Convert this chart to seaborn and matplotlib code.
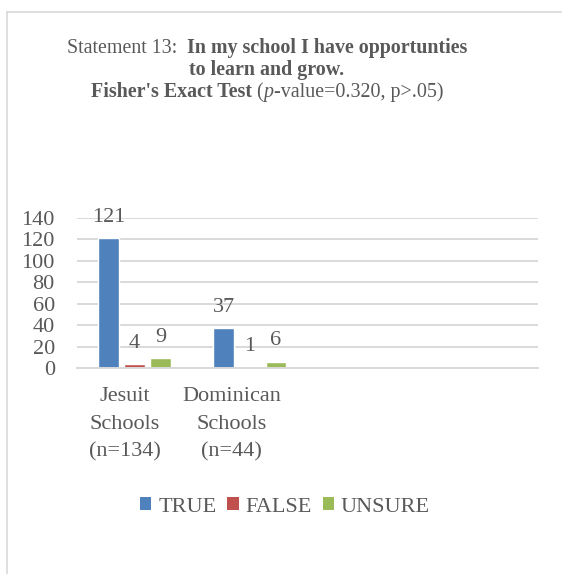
import matplotlib
matplotlib.use("Agg")
import matplotlib.pyplot as plt
import matplotlib.transforms as mtransforms
import seaborn as sns
import pandas as pd
from matplotlib.patches import Patch
from matplotlib.lines import Line2D

# ---- data ----
schools = ["Jesuit\nSchools\n(n=134)", "Dominican\nSchools\n(n=44)"]
empty_slots = [" ", "  "]
responses = ["TRUE", "FALSE", "UNSURE"]
true_vals = [121, 37]
false_vals = [4, 1]
unsure_vals = [9, 6]
y_ticks = [0, 20, 40, 60, 80, 100, 120, 140]
colors = ["#4F81BD", "#C0504D", "#9BBB59"]

rows = []
for i, s in enumerate(schools):
    for r, vals in zip(responses, [true_vals, false_vals, unsure_vals]):
        rows.append({"school": s, "response": r, "count": vals[i]})
df = pd.DataFrame(rows)

sns.set_style("white")
plt.rcParams["font.family"] = ["Liberation Serif", "DejaVu Serif"]
TXT = "#595959"
FS = 16

W, H = 562, 574
fig = plt.figure(figsize=(W / 100, H / 100), dpi=100)
ax = fig.add_axes([77 / W, 1 - 368 / H, (538 - 77) / W, (368 - 218) / H])

sns.barplot(data=df, x="school", y="count", hue="response",
            order=schools + empty_slots, hue_order=responses,
            palette=colors, width=0.68, gap=0.21, ax=ax,
            legend=False, saturation=1, errorbar=None)

ax.set_ylim(0, 140)
ax.set_xlim(-0.5, 3.5)
ax.set_yticks(y_ticks)
ax.set_yticklabels([str(t) for t in y_ticks], fontsize=FS, color=TXT)
ax.set_xticks(range(4))
ax.set_xticklabels(schools + ["", ""], fontsize=FS, color=TXT, linespacing=1.6)
ax.tick_params(axis="both", length=0)
ax.tick_params(axis="y", pad=16)
ax.tick_params(axis="x", pad=14)
ax.set_xlabel("")
ax.set_ylabel("")
ax.yaxis.grid(True, color="#D9D9D9", linewidth=1.4)
ax.set_axisbelow(True)
for sp in ["left", "right", "top"]:
    ax.spines[sp].set_visible(False)
ax.spines["bottom"].set_color("#D9D9D9")
ax.spines["bottom"].set_linewidth(1.4)

# shift category labels left like the reference
shifts = [-10, -18, 0, 0]
for lab, dx in zip(ax.get_xticklabels(), shifts):
    lab.set_transform(lab.get_transform() + mtransforms.ScaledTranslation(dx / 100, 0, fig.dpi_scale_trans))

for c in ax.containers:
    ax.bar_label(c, fmt="%d", fontsize=FS, color=TXT, padding=8)

# legend
handles = [Patch(facecolor=col, edgecolor="none") for col in colors]
fig.legend(handles, responses, loc="center", bbox_to_anchor=(285 / W, 1 - 507 / H),
           ncol=3, frameon=False, fontsize=FS, handlelength=0.5, handleheight=0.5,
           handletextpad=0.3, columnspacing=0.5, labelcolor=TXT)

# frame border
fig.add_artist(Line2D([7 / W, 1], [1 - 12 / H, 1 - 12 / H], color="#D9D9D9", lw=1.2,
                      transform=fig.transFigure))
fig.add_artist(Line2D([7 / W, 7 / W], [0, 1 - 12 / H], color="#D9D9D9", lw=1.2,
                      transform=fig.transFigure))

# title with mixed styles
TFS = 14.4
lines = [
    [("Statement 13:  ", "normal", "normal"), ("In my school I have opportunties", "bold", "normal")],
    [("to learn and grow.", "bold", "normal")],
    [("Fisher's Exact Test", "bold", "normal"), (" (", "normal", "normal"),
     ("p", "normal", "italic"), ("-value=0.320, p>.05)", "normal", "normal")],
]
baselines = [53, 75, 97]
cx = 267
renderer = fig.canvas.get_renderer()
for segs, by in zip(lines, baselines):
    texts = []
    for s, wt, st in segs:
        t = fig.text(0, 1 - by / H, s, fontsize=TFS, fontweight=wt, fontstyle=st,
                     color=TXT, va="baseline", ha="left")
        texts.append(t)
    widths = [t.get_window_extent(renderer).width for t in texts]
    x = cx - sum(widths) / 2
    for t, w in zip(texts, widths):
        t.set_x(x / W)
        x += w

fig.savefig("out.png", dpi=100)
